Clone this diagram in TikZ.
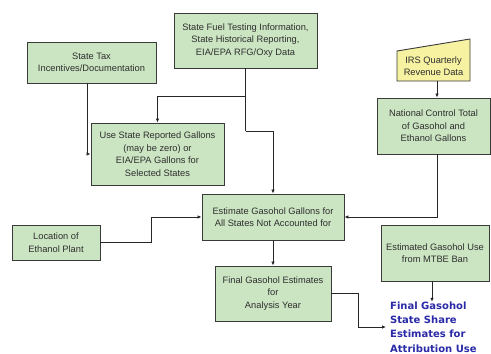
\documentclass[tikz,border=0pt]{standalone}
\usepackage{fontspec}
\setmainfont{Liberation Sans}
\newfontfamily\bluefont{DejaVu Sans}
\usetikzlibrary{arrows.meta}
\definecolor{boxgreen}{HTML}{CBE5C2}
\definecolor{boxyellow}{HTML}{F7F2A2}
\definecolor{edgegray}{HTML}{3A3A3A}
\definecolor{txtgray}{HTML}{2E2E2E}
\definecolor{finalblue}{HTML}{2A2AA8}
\tikzset{
  gbox/.style={draw=edgegray, fill=boxgreen, line width=0.9pt, align=center, inner sep=1pt,
    font=\fontsize{9.3}{12.5}\selectfont, text=txtgray},
  arr/.style={draw=black!85, line width=0.8pt, -{Latex[length=4pt,width=3.5pt]}},
  ln/.style={draw=black!85, line width=0.8pt}
}
\begin{document}
\begin{tikzpicture}[x=1pt,y=-1pt]
\useasboundingbox (0,0) rectangle (491,354);
\fill[white] (0,0) rectangle (491,354);
\node[gbox, minimum width=129pt, minimum height=41pt] (tax) at (91.5,62.5) {State Tax\\Incentives/Documentation};
\node[gbox, minimum width=143pt, minimum height=55pt] (fuel) at (245.5,40.5) {State Fuel Testing Information,\\State Historical Reporting,\\EIA/EPA RFG/Oxy Data};
\node[gbox, minimum width=133pt, minimum height=62pt] (use) at (157.5,154) {Use State Reported Gallons\\(may be zero) or\\EIA/EPA Gallons for\\Selected States};
% IRS manual input shape
\draw[draw=edgegray, fill=boxyellow, line width=0.9pt] (397,51) -- (470,39) -- (470,81) -- (397,81) -- cycle;
\node[align=center, font=\fontsize{9.3}{12.5}\selectfont, text=txtgray, minimum width=73pt, minimum height=30pt, inner sep=0pt] (irs) at (433.5,66) {IRS Quarterly\\Revenue Data};
\node[gbox, minimum width=113pt, minimum height=56pt] (nat) at (433.5,126) {National Control Total\\of Gasohol and\\Ethanol Gallons};
\node[gbox, minimum width=142pt, minimum height=46pt] (est) at (273,217) {Estimate Gasohol Gallons for\\All States Not Accounted for};
\node[gbox, minimum width=88pt, minimum height=35pt] (loc) at (56,242.5) {Location of\\Ethanol Plant};
\node[gbox, minimum width=116pt, minimum height=55pt] (fin) at (273,293.5) {Final Gasohol Estimates\\for\\Analysis Year};
\node[gbox, minimum width=108pt, minimum height=56pt] (mtbe) at (435,253) {Estimated Gasohol Use\\from MTBE Ban};
\node[anchor=west, align=left, inner sep=0pt, text=finalblue, font=\bluefont\bfseries\fontsize{10}{14.3}\selectfont, minimum height=56pt] (final) at (390,327) {Final Gasohol\\State Share\\Estimates for\\Attribution Use};
% connectors
\coordinate (tx) at (87,0);
\draw[arr] (tax.south -| tx) |- (use.west);
\coordinate (fj) at (245.5,96);
\coordinate (fk) at (245.5,131);
\draw[ln] (fuel.south) -- (fk);
\draw[arr] (fj) -| (use.north);
\draw[arr] (fk) -| (est.north);
\coordinate (ix) at (437,0);
\draw[arr] (irs.south -| ix) -- (nat.north -| ix);
\draw[arr] (nat.south -| ix) |- (est.east);
\coordinate (lx) at (151,0);
\draw[arr] (loc.east) -| (lx |- est.west) -- (est.west);
\draw[arr] (est.south) -- (fin.north);
\coordinate (fx) at (358,0);
\draw[arr] (fin.east) -| (fx |- final.west) -- ([xshift=-4pt]final.west);
\coordinate (mx) at (432,0);
\draw[arr] (mtbe.south -| mx) -- ([yshift=-3pt]final.north -| mx);
\end{tikzpicture}
\end{document}
